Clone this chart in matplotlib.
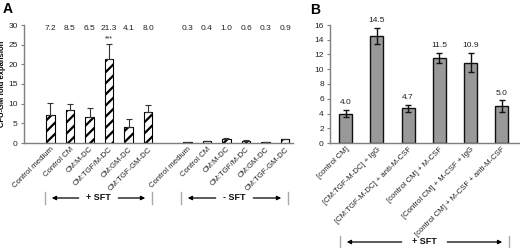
import matplotlib
matplotlib.use("Agg")
import matplotlib.pyplot as plt
from matplotlib.lines import Line2D
from matplotlib.patches import FancyArrowPatch

plt.rcParams['font.family'] = ['Liberation Sans', 'DejaVu Sans']
plt.rcParams['hatch.linewidth'] = 1.6

# Panel A data
a_labels = ["Control medium", "Control CM", "CM:M-DC", "CM:TGF/M-DC", "CM:GM-DC", "CM:TGF-GM-DC"]
a_plus_vals = [7.2, 8.5, 6.5, 21.3, 4.1, 8.0]
a_plus_err = [2.9, 1.4, 2.4, 3.9, 1.9, 1.6]
a_minus_vals = [0.3, 0.4, 1.0, 0.6, 0.3, 0.9]
a_minus_err = [0.05, 0.08, 0.2, 0.15, 0.05, 0.2]
a_yticks = [0, 5, 10, 15, 20, 25, 30]

# Panel B data
b_labels = ["[control CM]", "[CM:TGF-M-DC] + IgG", "[CM:TGF-M-DC] + anti-M-CSF",
            "[control CM] + M-CSF", "[Control CM] + M-CSF + IgG",
            "[control CM] + M-CSF + anti-M-CSF"]
b_vals = [4.0, 14.5, 4.7, 11.5, 10.9, 5.0]
b_err = [0.5, 1.1, 0.45, 0.7, 1.3, 0.8]
b_yticks = [0, 2, 4, 6, 8, 10, 12, 14, 16]

W, H = 520, 248
fig = plt.figure(figsize=(W / 100, H / 100), dpi=100)

def fx(px):
    return px / W

def fy(py):
    return 1 - py / H

axis_col = '#7f7f7f'
fs = 6
xfs = 5.6

def style_axes(ax):
    for s in ['top', 'right']:
        ax.spines[s].set_visible(False)
    for s in ['left', 'bottom']:
        ax.spines[s].set_color(axis_col)
        ax.spines[s].set_linewidth(1.0)
    ax.tick_params(axis='y', length=2.5, width=0.8, color=axis_col, labelsize=fs, pad=2, labelcolor='#222222')
    ax.tick_params(axis='x', length=0, labelsize=xfs, pad=2, labelcolor='#222222')

# ---------- Panel A ----------
axA = fig.add_axes([fx(24), fy(143), fx(293 - 24), fy(25) - fy(143)])
xa1 = list(range(6))
xa2 = [i + 7 for i in range(6)]
bw = 0.43
ekw = dict(ecolor='#333333', elinewidth=0.8, capsize=2.5, capthick=0.8)
axA.bar(xa1, a_plus_vals, width=bw, color='white', edgecolor='black', hatch='///', linewidth=0.8,
        yerr=[[0] * 6, a_plus_err], error_kw=ekw)
axA.bar(xa2, a_minus_vals, width=bw, color='white', edgecolor='black', hatch='///', linewidth=0.8,
        yerr=[[0] * 6, a_minus_err], error_kw=ekw)
axA.set_xlim(-1.35, 12.4)
axA.set_ylim(0, 30)
axA.set_yticks(a_yticks)
axA.set_xticks(xa1 + xa2)
axA.set_xticklabels(a_labels + a_labels, rotation=45, ha='right', rotation_mode='anchor')
style_axes(axA)
for x, v in zip(xa1 + xa2, a_plus_vals + a_minus_vals):
    axA.text(x, 29, f"{v:.1f}", ha='center', va='center', fontsize=fs, color='#222222')
axA.text(xa1[3], a_plus_vals[3] + a_plus_err[3] + 0.3, "***", ha='center', va='bottom', fontsize=5, color='#222222')
axA.set_ylabel("CFU-GM fold expansion", fontsize=5.5, fontweight='bold')
axA.yaxis.set_label_coords(-0.068, 0.5)

# ---------- Panel B ----------
axB = fig.add_axes([fx(330), fy(143), fx(519 - 330), fy(25) - fy(143)])
xb = list(range(6))
axB.bar(xb, b_vals, width=0.42, color='#999999', edgecolor='#111111', linewidth=1.0,
        yerr=b_err, error_kw=dict(ecolor='#111111', elinewidth=1.0, capsize=2.5, capthick=1.0))
axB.set_xlim(-0.5, 5.55)
axB.set_ylim(0, 16)
axB.set_yticks(b_yticks)
axB.set_xticks(xb)
axB.set_xticklabels(b_labels, rotation=45, ha='right', rotation_mode='anchor')
style_axes(axB)
for x, v, e in zip(xb, b_vals, b_err):
    axB.text(x, v + e + 0.5, f"{v:.1f}", ha='center', va='bottom', fontsize=fs, color='#222222')

# ---------- Bracket arrows ----------
def bracket(x0, x1, y, label, txt_w):
    yc = fy(y)
    for xe in (x0, x1):
        fig.add_artist(Line2D([fx(xe), fx(xe)], [fy(y - 6), fy(y + 6)], color='#aaaaaa', lw=1.0))
    xm = (x0 + x1) / 2
    fig.text(fx(xm), yc, label, ha='center', va='center', fontsize=6.5, fontweight='bold', color='#111111')
    fig.add_artist(FancyArrowPatch((fx(xm - txt_w), yc), (fx(x0 + 4), yc),
                   transform=fig.transFigure, arrowstyle='-|>', mutation_scale=6, lw=0.9, color='black'))
    fig.add_artist(FancyArrowPatch((fx(xm + txt_w), yc), (fx(x1 - 4), yc),
                   transform=fig.transFigure, arrowstyle='-|>', mutation_scale=6, lw=0.9, color='black'))

bracket(45, 152, 198, "+ SFT", 17)
bracket(181, 288, 198, "- SFT", 16)
bracket(340, 509, 242, "+ SFT", 20)

# Panel letters
fig.text(fx(3), fy(9), "A", fontsize=10, fontweight='bold', ha='left', va='center')
fig.text(fx(310), fy(10), "B", fontsize=10, fontweight='bold', ha='left', va='center')

fig.savefig("out.png", dpi=100)
